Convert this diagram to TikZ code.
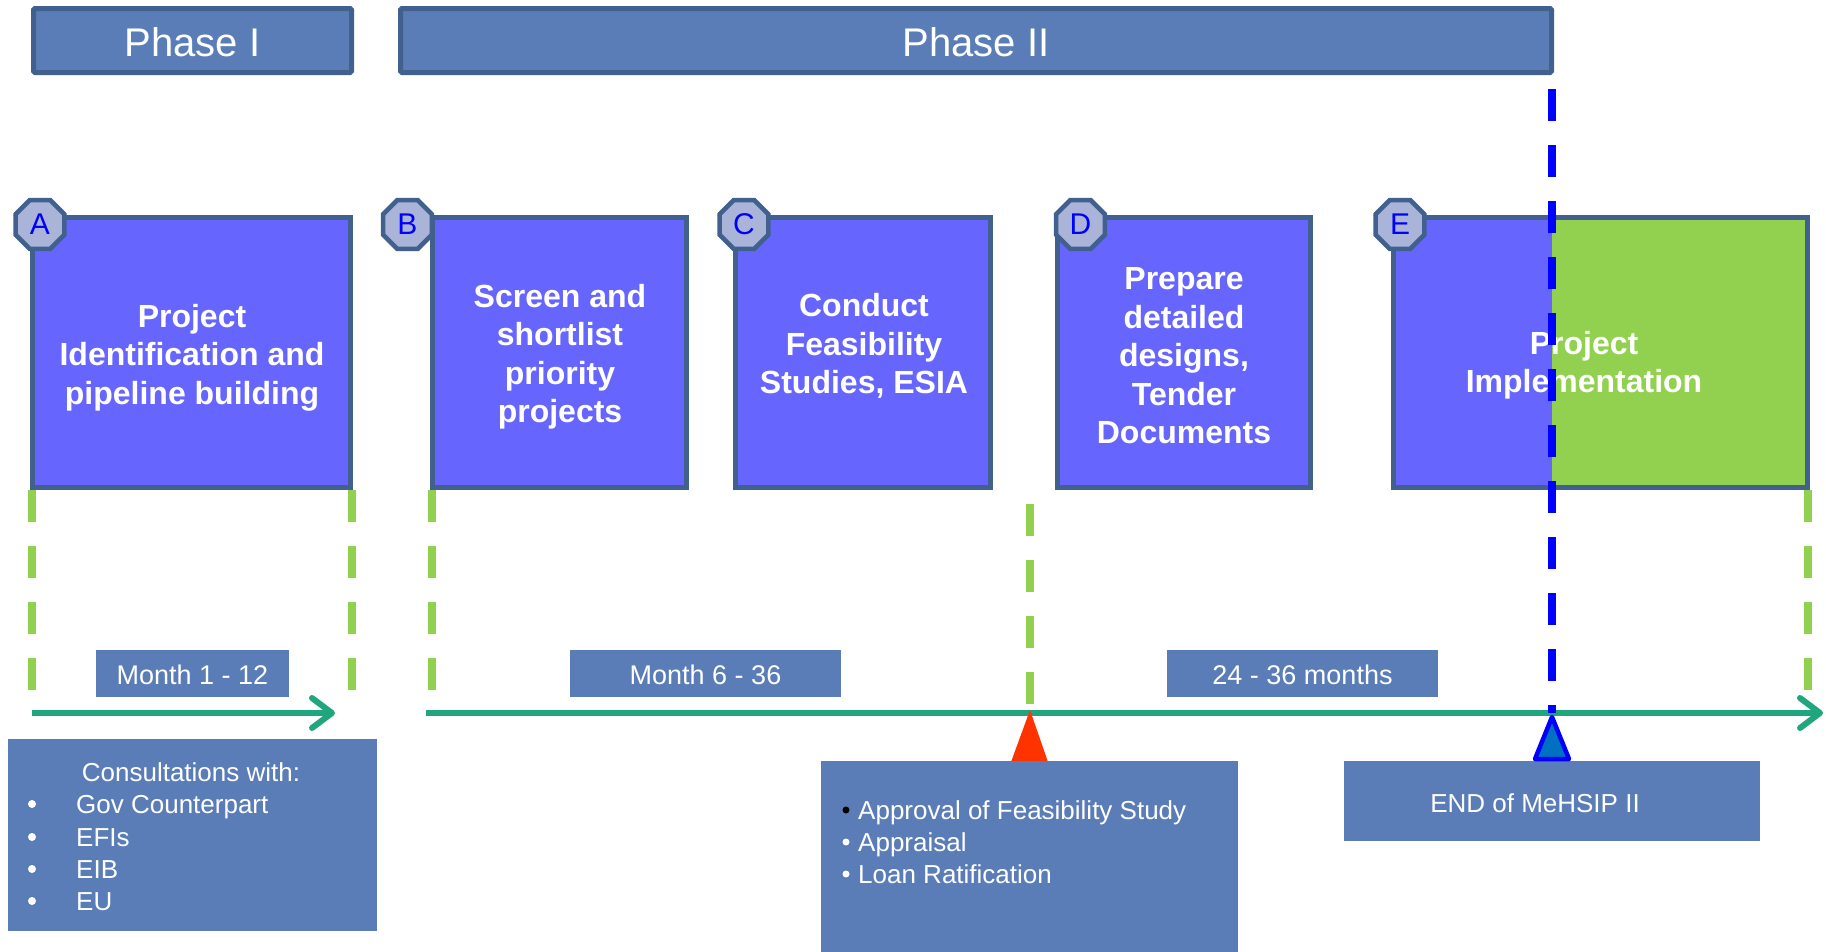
\documentclass[tikz,border=0pt]{standalone}
\usepackage{fontspec}
\setmainfont{Liberation Sans}
\usetikzlibrary{shapes.geometric,arrows.meta}
\definecolor{phasefill}{HTML}{5A7DB8}
\definecolor{edge}{HTML}{41608E}
\definecolor{boxfill}{HTML}{6666FF}
\definecolor{implgreen}{HTML}{92D050}
\definecolor{octfill}{HTML}{AAB4D8}
\definecolor{tealline}{HTML}{20A67E}
\definecolor{redtri}{HTML}{FF3300}
\definecolor{bluetri}{HTML}{0070C0}
\begin{document}
\begin{tikzpicture}[x=1pt,y=-1pt,
  phasebox/.style={draw=edge,line width=5pt,fill=phasefill,rounded corners=1.5pt,inner sep=0pt,outer sep=0pt,minimum height=64pt},
  stepbox/.style={draw=edge,line width=5pt,fill=boxfill,inner sep=0pt,outer sep=0pt,minimum height=270pt},
  octo/.style={regular polygon,regular polygon sides=8,draw=edge,line width=4.5pt,fill=octfill,minimum size=53pt,inner sep=0pt,text=blue,font=\fontsize{30}{30}\selectfont},
  steptext/.style={text=white,font=\bfseries\fontsize{32}{38.5}\selectfont,align=center,inner sep=0pt},
  phasetext/.style={text=white,font=\fontsize{40}{40}\selectfont,inner sep=0pt},
  tagbox/.style={fill=phasefill,inner sep=0pt,outer sep=0pt,minimum height=47pt},
  tagtext/.style={text=white,font=\fontsize{27}{27}\selectfont,inner sep=0pt},
  notebox/.style={fill=phasefill,inner sep=0pt,outer sep=0pt},
  notetext/.style={text=white,font=\fontsize{26}{32}\selectfont,inner sep=0pt},
  gdash/.style={draw=implgreen,line width=8pt,dash pattern=on 32pt off 24pt},
  bdash/.style={draw=blue,line width=8pt,dash pattern=on 32pt off 24pt},
  timeline/.style={draw=tealline,line width=6pt,-{Straight Barb[length=20pt,width=30pt,round]}},
  dot/.style={circle,inner sep=0pt,minimum size=8pt},
]
\useasboundingbox (0,0) rectangle (1826,951);

% phase headers
\node[phasebox,minimum width=318pt] (ph1) at (192.5,40.5) {};
\node[phasetext] (ph1t) at (192.5,42) {Phase I};
\node[phasebox,minimum width=1151pt] (ph2) at (976,40.5) {};
\node[phasetext] (ph2t) at (976,42) {Phase II};

% green dashed guides
\coordinate (ga1) at (32,490);   \coordinate (ga2) at (32,690);
\coordinate (gb1) at (352,490);  \coordinate (gb2) at (352,690);
\coordinate (gc1) at (432,490);  \coordinate (gc2) at (432,690);
\coordinate (gd1) at (1030,504); \coordinate (gd2) at (1030,705);
\coordinate (ge1) at (1808,490); \coordinate (ge2) at (1808,690);
\draw[gdash] (ga1) -- (ga2);
\draw[gdash] (gb1) -- (gb2);
\draw[gdash] (gc1) -- (gc2);
\draw[gdash] (gd1) -- (gd2);
\draw[gdash] (ge1) -- (ge2);

% step boxes
\node[stepbox,minimum width=318pt] (A) at (191.5,352.5) {};
\node[stepbox,minimum width=254pt] (B) at (559.5,352.5) {};
\node[stepbox,minimum width=255pt] (C) at (863,352.5) {};
\node[stepbox,minimum width=253.5pt] (D) at (1184,352.5) {};
\node[stepbox,draw=none,minimum width=414pt] (E) at (1600.5,352.5) {};
\coordinate (Esplit) at (1552,217.5);
\fill[implgreen] (Esplit) rectangle (E.south east);
\draw[edge,line width=5pt] (E.north west) rectangle (E.south east);

\node[steptext] (At) at (192,357.5) {Project\\Identification and\\pipeline building};
\node[steptext] (Bt) at (560,356.5) {Screen and\\shortlist\\priority\\projects};
\node[steptext] (Ct) at (864,346) {Conduct\\Feasibility\\Studies, ESIA};
\node[steptext] (Dt) at (1184,356) {Prepare\\detailed\\designs,\\Tender\\Documents};
\node[steptext] (Et) at (1584,365) {Project\\Implementation};

% octagon labels
\node[octo] (oa) at (40,224.5) {A};
\node[octo] (ob) at (407.5,224.5) {B};
\node[octo] (oc) at (744,224.5) {C};
\node[octo] (od) at (1080.5,224.5) {D};
\node[octo] (oe) at (1400,224.5) {E};

% duration tags
\node[tagbox,minimum width=193pt] (m1) at (192.5,673) {};
\node[tagtext] (m1t) at (192.5,675) {Month 1 - 12};
\node[tagbox,minimum width=271pt] (m2) at (705.5,673) {};
\node[tagtext] (m2t) at (705.5,675) {Month 6 - 36};
\node[tagbox,minimum width=271pt] (m3) at (1302.5,673) {};
\node[tagtext] (m3t) at (1302.5,675) {24 - 36 months};

% timelines
\coordinate (t1s) at (32,713);  \coordinate (t1e) at (335,713);
\coordinate (t2s) at (426,713); \coordinate (t2e) at (1823,713);
\draw[timeline] (t1s) -- (t1e);
\draw[timeline] (t2s) -- (t2e);

% milestone triangle (red)
\coordinate (rtop) at (1030,710);
\fill[redtri] (rtop) -- (1048,762) -- (1011,762) -- cycle;

% consultations box
\node[notebox,minimum width=369pt,minimum height=192pt] (cons) at (192.5,835) {};
\node[notetext] (consh) at (191,772.5) {Consultations with:};
\node[notetext,anchor=base west] (c1) at (76,813) {Gov Counterpart};
\node[notetext,anchor=base west] (c2) at (76,846) {EFIs};
\node[notetext,anchor=base west] (c3) at (76,878) {EIB};
\node[notetext,anchor=base west] (c4) at (76,910) {EU};
\foreach \yy/\nm in {804/cb1,837/cb2,869/cb3,901/cb4}
  \node[dot,fill=white] (\nm) at (32,\yy) {};

% feasibility box
\node[notebox,minimum width=417pt,minimum height=192pt] (feas) at (1029.5,857) {};
\node[notetext,anchor=base west] (f1) at (858,819.5) {Approval of Feasibility Study};
\node[notetext,anchor=base west] (f2) at (858,851.5) {Appraisal};
\node[notetext,anchor=base west] (f3) at (858,883.5) {Loan Ratification};
\node[dot,fill=black,minimum size=7pt] (fb1) at (846,810) {};
\node[dot,fill=white,minimum size=7pt] (fb2) at (846,842) {};
\node[dot,fill=white,minimum size=7pt] (fb3) at (846,874) {};

% end box
\node[notebox,minimum width=416pt,minimum height=80pt] (endb) at (1552,801) {};
\node[notetext] (endt) at (1535,803.5) {END of MeHSIP II};
\coordinate (btop) at (1552,717);
\draw[draw=blue,fill=bluetri,line width=4.5pt,line join=round] (btop) -- (1569,759) -- (1535,759) -- cycle;

% end of MeHSIP II marker line
\coordinate (bl1) at (1552,89);
\coordinate (bl2) at (1552,713);
\draw[bdash] (bl1) -- (bl2);
\end{tikzpicture}
\end{document}
